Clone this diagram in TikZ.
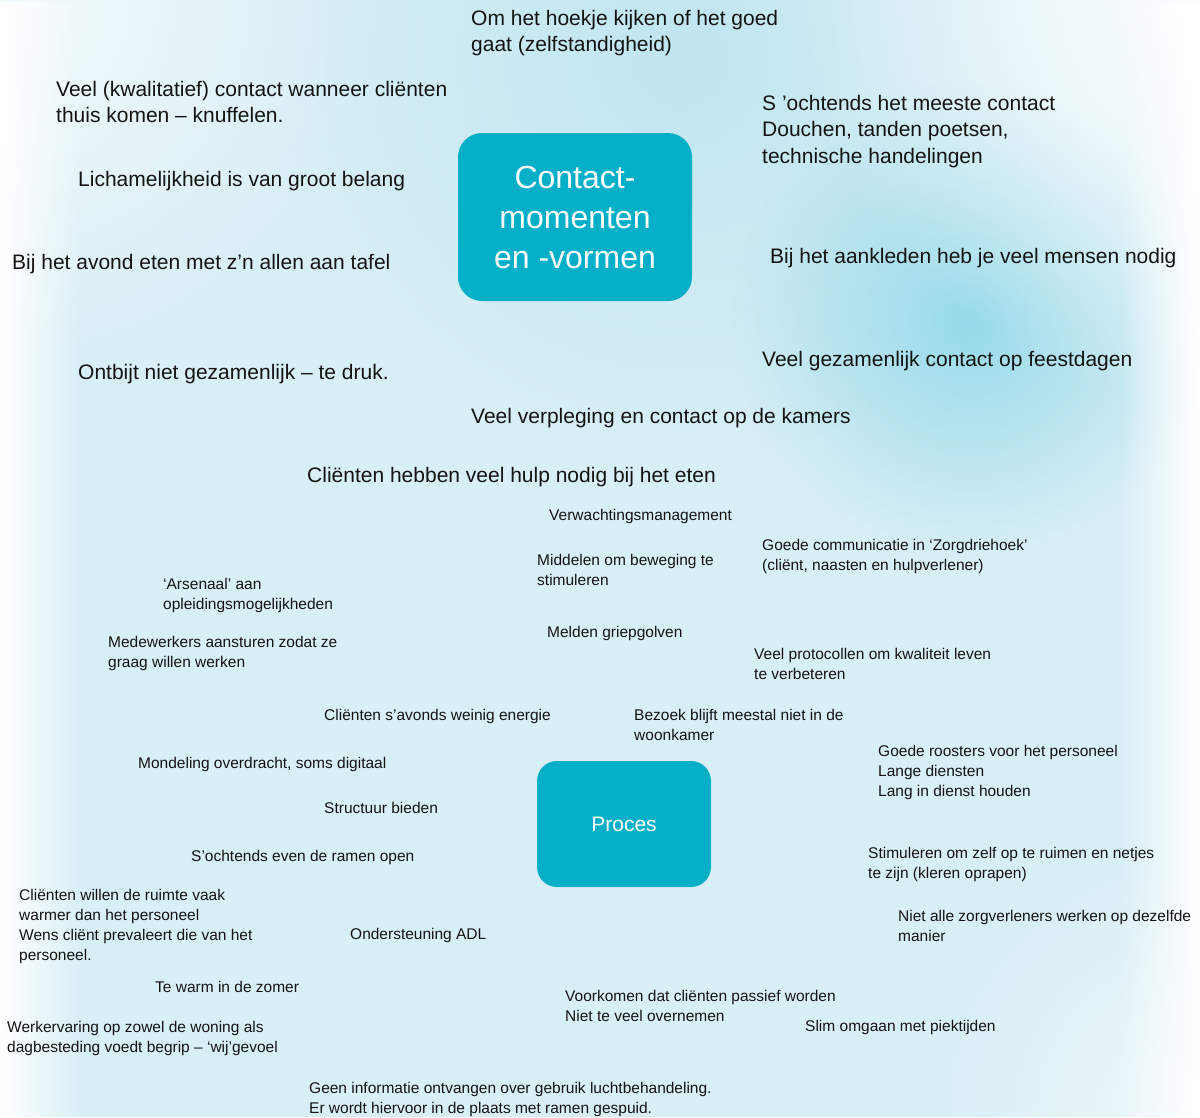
\documentclass[tikz,border=0pt]{standalone}
\usepackage{fontspec}
\setmainfont{Liberation Sans}
\usetikzlibrary{fadings}
\definecolor{bgblue}{RGB}{217,239,246}
\definecolor{blobblue}{RGB}{150,218,233}
\definecolor{topblue}{RGB}{192,230,240}
\definecolor{boxcol}{RGB}{4,175,199}
\definecolor{txt}{RGB}{20,20,20}
\tikzfading[name=softcirc, inner color=transparent!0, outer color=transparent!100]
\tikzfading[name=fadetoright, left color=transparent!0, right color=transparent!100]
\tikzfading[name=fadetoleft, left color=transparent!100, right color=transparent!0]
\begin{document}
\begin{tikzpicture}[x=1pt,y=-1pt,
  big/.style={font=\fontsize{21}{26.5}\selectfont, text=txt, anchor=base west, inner sep=0pt, align=left},
  small/.style={font=\fontsize{15.5}{20}\selectfont, text=txt, anchor=base west, inner sep=0pt, align=left},
  hub/.style={fill=boxcol, rounded corners=24pt, text=white, align=center, inner sep=0pt}]
\useasboundingbox (0,0) rectangle (1200,1117);
\begin{scope}
\clip (0,0) rectangle (1200,1117);
\fill[bgblue] (0,0) rectangle (1200,1117);
\fill[topblue, path fading=softcirc] (680,60) circle (400);
\fill[blobblue, path fading=softcirc] (970,320) circle (240);
\fill[white, path fading=softcirc] (1230,-30) circle (440);
\fill[white, opacity=0.7, path fading=softcirc] (0,0) circle (360);
\fill[white, path fading=fadetoright] (0,0) rectangle (80,1117);
\fill[white, path fading=fadetoleft] (1120,0) rectangle (1200,1117);
\fill[white, opacity=0.6, path fading=softcirc] (1200,1117) circle (260);
\end{scope}

% hubs (multi-line nodes: base anchor = last line's baseline)
\node[hub, minimum width=234pt, minimum height=168pt, font=\fontsize{32}{40}\selectfont] (contact) at (575,217) {Contact-\\momenten\\en -vormen};
\node[hub, rounded corners=20pt, minimum width=174pt, minimum height=126pt, font=\fontsize{21}{26}\selectfont] (proces) at (624,824) {Proces};

% contact group
\node[big] (t1) at (471,51.5) {Om het hoekje kijken of het goed\\gaat (zelfstandigheid)};
\node[big] (t2) at (56,122.5) {Veel (kwalitatief) contact wanneer cliënten\\thuis komen – knuffelen.};
\node[big] (t3) at (78,186) {Lichamelijkheid is van groot belang};
\node[big] (t4) at (12,269) {Bij het avond eten met z’n allen aan tafel};
\node[big] (t5) at (762,163) {S ’ochtends het meeste contact\\Douchen, tanden poetsen,\\technische handelingen};
\node[big] (t6) at (770,263) {Bij het aankleden heb je veel mensen nodig};
\node[big] (t7) at (78,379) {Ontbijt niet gezamenlijk – te druk.};
\node[big] (t8) at (762,366) {Veel gezamenlijk contact op feestdagen};
\node[big] (t9) at (471,423) {Veel verpleging en contact op de kamers};
\node[big] (t10) at (307,482) {Cliënten hebben veel hulp nodig bij het eten};

% proces group
\node[small] (p1) at (549,520) {Verwachtingsmanagement};
\node[small] (p2) at (762,570) {Goede communicatie in ‘Zorgdriehoek’\\(cliënt, naasten en hulpverlener)};
\node[small] (p3) at (537,585) {Middelen om beweging te\\stimuleren};
\node[small] (p4) at (163,609) {‘Arsenaal’ aan\\opleidingsmogelijkheden};
\node[small] (p5) at (108,667) {Medewerkers aansturen zodat ze\\graag willen werken};
\node[small] (p6) at (547,637) {Melden griepgolven};
\node[small] (p7) at (754,679) {Veel protocollen om kwaliteit leven\\te verbeteren};
\node[small] (p8) at (324,720) {Cliënten s’avonds weinig energie};
\node[small] (p9) at (634,740) {Bezoek blijft meestal niet in de\\woonkamer};
\node[small] (p10) at (878,796) {Goede roosters voor het personeel\\Lange diensten\\Lang in dienst houden};
\node[small] (p11) at (138,768) {Mondeling overdracht, soms digitaal};
\node[small] (p12) at (324,813) {Structuur bieden};
\node[small] (p13) at (191,861) {S’ochtends even de ramen open};
\node[small] (p14) at (868,878) {Stimuleren om zelf op te ruimen en netjes\\te zijn (kleren oprapen)};
\node[small] (p15) at (19,960) {Cliënten willen de ruimte vaak\\warmer dan het personeel\\Wens cliënt prevaleert die van het\\personeel.};
\node[small] (p16) at (350,939) {Ondersteuning ADL};
\node[small] (p17) at (898,941) {Niet alle zorgverleners werken op dezelfde\\manier};
\node[small] (p18) at (155,992) {Te warm in de zomer};
\node[small] (p19) at (565,1021) {Voorkomen dat cliënten passief worden\\Niet te veel overnemen};
\node[small] (p20) at (7,1052) {Werkervaring op zowel de woning als\\dagbesteding voedt begrip – ‘wij’gevoel};
\node[small] (p21) at (805,1031) {Slim omgaan met piektijden};
\node[small] (p22) at (309,1113) {Geen informatie ontvangen over gebruik luchtbehandeling.\\Er wordt hiervoor in de plaats met ramen gespuid.};
\end{tikzpicture}
\end{document}
